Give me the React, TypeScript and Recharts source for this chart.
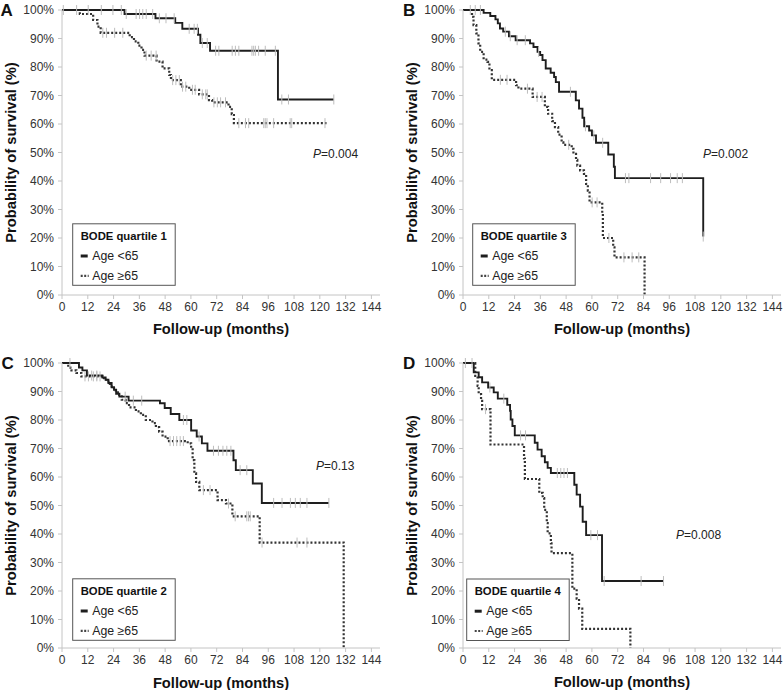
import React from 'react';
import { ComposedChart, Line, Scatter, XAxis, YAxis } from 'recharts';

type Pt = [number, number];

const FONT = '"Liberation Sans", Arial, Helvetica, sans-serif';

const xTicks = [0, 12, 24, 36, 48, 60, 72, 84, 96, 108, 120, 132, 144];
const yTicks = [0, 10, 20, 30, 40, 50, 60, 70, 80, 90, 100];

const groupLabels = ['Age <65', 'Age \u226565'];
const panelLetters = ['A', 'B', 'C', 'D'];
const quartileTitles = ['BODE quartile 1', 'BODE quartile 3', 'BODE quartile 2', 'BODE quartile 4'];
const pValues = ['0.004', '0.002', '0.13', '0.008'];

// Panel A – BODE quartile 1
const aYoung: Pt[] = [[0, 100], [29.1, 98.6], [43.5, 97.1], [52.7, 95.5], [56, 93.4], [63.3, 91.3], [64.4, 88.4], [68.9, 85.7], [100.5, 68.6], [126.5, 68.6]];
const aYoungCensor: Pt[] = [[0.6, 100], [6.8, 100], [12.2, 100], [18.3, 100], [23.7, 100], [27.6, 100], [29.9, 98.6], [34.5, 98.6], [36.1, 98.6], [37.6, 98.6], [39.2, 98.6], [42.2, 98.6], [45.3, 97.1], [48.4, 97.1], [52.2, 97.1], [59.2, 93.4], [61.5, 93.4], [63, 93.4], [65.3, 88.4], [67.6, 88.4], [71.5, 85.7], [73, 85.7], [79.2, 85.7], [80.7, 85.7], [82.3, 85.7], [88.4, 85.7], [89.2, 85.7], [90, 85.7], [91.5, 85.7], [94.6, 85.7], [99.3, 85.7], [102.3, 68.6], [105.4, 68.6], [126.5, 68.6]];
const aOld: Pt[] = [[0, 100], [8.3, 98.6], [14.5, 96.5], [16.5, 94.2], [18, 92], [31.5, 90.5], [33.5, 89], [35.5, 87.5], [37, 86], [38.4, 84], [44, 81.9], [46.8, 79.5], [49.9, 77.2], [50.7, 75.4], [55.3, 73.1], [59.2, 72], [63.8, 70.4], [68.4, 68.4], [69.9, 67.6], [77.5, 66], [79, 63.5], [80, 60.3], [123.1, 60.3]];
const aOldCensor: Pt[] = [[19, 92], [20.7, 92], [24.5, 92], [28.3, 92], [39.2, 84], [41.5, 84], [43.8, 84], [51.5, 75.4], [53, 75.4], [54.6, 75.4], [56.1, 73.1], [57.6, 73.1], [60.7, 72], [62, 72], [65.3, 70.4], [66.9, 70.4], [67.6, 70.4], [70.7, 67.6], [72.3, 67.6], [73.8, 67.6], [76.1, 67.6], [82.3, 60.3], [85.4, 60.3], [86.9, 60.3], [93.9, 60.3], [94.6, 60.3], [95.4, 60.3], [98.5, 60.3], [106.2, 60.3], [106.9, 60.3], [122.4, 60.3]];

// Panel B – BODE quartile 3
const bYoung: Pt[] = [[0, 100], [9.6, 99], [12.7, 97.9], [15.1, 96.7], [16.2, 95.3], [17.2, 93.5], [18.7, 92.4], [21.4, 90.8], [24.5, 89.4], [31.2, 88.3], [32.8, 87], [34.7, 85.3], [35.9, 84.2], [37, 82.4], [38.5, 79.5], [40.8, 78], [42.4, 76.5], [43.2, 74.7], [44.7, 71.3], [52.5, 68.3], [54, 65.4], [55.6, 62.2], [56.4, 59.2], [58.7, 57.7], [60, 56], [61.9, 53.4], [67.6, 49.3], [70.2, 45], [70.7, 41], [111.8, 41], [111.8, 20.5]];
const bYoungCensor: Pt[] = [[3.4, 100], [5.7, 100], [8.1, 100], [19.7, 92.4], [22, 90.8], [25.2, 89.4], [29, 89.4], [35.2, 85.3], [50, 71.3], [57, 59.2], [60.9, 56], [65, 53.4], [75.6, 41], [77.2, 41], [87.3, 41], [92, 41], [96.6, 41], [99.7, 41], [102.1, 41], [111.8, 20.5]];
const bOld: Pt[] = [[0, 100], [4.2, 97.6], [4.9, 94.7], [6.2, 91.8], [7.2, 88.3], [8, 85.3], [9.6, 82.6], [11.4, 81.8], [12.3, 78.9], [13.4, 75.5], [24.7, 73.6], [25.8, 72.4], [32.4, 69.5], [38.1, 66], [39.6, 63.6], [41.5, 61], [42.8, 58.9], [44.3, 56.3], [45.9, 53.6], [46.7, 52.7], [50.6, 51.3], [51.4, 49.5], [52.6, 47.4], [53.2, 45.4], [54.5, 43.7], [56.3, 42.5], [57.3, 39], [58.1, 36.6], [58.9, 32.5], [64.8, 28.4], [65.1, 20], [69.9, 16.7], [70.5, 13.2], [84.5, 13.2], [84.5, 0]];
const bOldCensor: Pt[] = [[17.4, 75.5], [20.5, 75.5], [30, 72.4], [34.5, 69.5], [36.8, 69.5], [49.2, 52.7], [60.1, 32.5], [62.4, 32.5], [67.9, 20], [74.9, 13.2], [78.7, 13.2], [81.8, 13.2]];

// Panel C – BODE quartile 2
const cYoung: Pt[] = [[0, 100], [7.9, 98.4], [9.5, 97.4], [11.6, 95.6], [18.8, 94.9], [20.3, 94.1], [21.6, 93], [23.1, 91.5], [24.2, 90.6], [25.2, 89.2], [26.7, 88.2], [31, 86.8], [45.6, 85.9], [47.8, 84.2], [50.6, 82.1], [54.6, 80], [60.1, 76.3], [62.7, 74.2], [65.1, 71.8], [67.7, 69.2], [79.8, 65.9], [80.9, 62.4], [88.8, 57.7], [93, 50.9], [124.2, 50.9]];
const cYoungCensor: Pt[] = [[3.7, 100], [13.8, 95.6], [16.2, 95.6], [29.4, 88.2], [33.2, 86.8], [37.1, 86.8], [56.5, 80], [58.1, 80], [63.8, 74.2], [70.5, 69.2], [72.8, 69.2], [74.9, 69.2], [76.7, 69.2], [78.6, 69.2], [82.9, 62.4], [86, 62.4], [98.5, 50.9], [102.4, 50.9], [106.3, 50.9], [108.6, 50.9], [110.9, 50.9], [114, 50.9], [124.2, 50.9]];
const cOld: Pt[] = [[0, 100], [2.9, 98.4], [4.4, 97.4], [6.7, 96.5], [9, 95.3], [18.8, 94.7], [20.6, 93.5], [22.3, 91.8], [24.2, 90.4], [26, 88.8], [27.8, 87.1], [29.6, 85.9], [31.2, 84.4], [34.4, 83], [36.7, 81.8], [39, 80], [42.1, 78.9], [43.7, 77.5], [45.2, 75.9], [46.8, 74.2], [49.2, 72.6], [58.5, 71.8], [60.1, 70.1], [60.8, 65.9], [61.6, 61.3], [62.4, 58.3], [63.9, 55.4], [72.4, 51.9], [76.3, 50.7], [79.3, 46.2], [92, 37], [131.1, 37], [131.1, 0]];
const cOldCensor: Pt[] = [[10.7, 95.3], [12.3, 95.3], [14.6, 95.3], [16.2, 95.3], [17.7, 95.3], [50.3, 72.6], [51.9, 72.6], [53.4, 72.6], [55, 72.6], [56.5, 72.6], [65.8, 55.4], [68.9, 55.4], [77.5, 50.7], [80.6, 46.2], [86, 46.2], [86.8, 46.2], [87.6, 46.2], [93.1, 37], [109.4, 37], [114, 37]];

// Panel D – BODE quartile 4
const dYoung: Pt[] = [[0, 100], [5, 96.7], [7.3, 95], [8.9, 93.2], [11.7, 91.4], [14.3, 89.7], [16.2, 87.5], [20.6, 85.3], [21.9, 83.2], [22.2, 80.2], [23, 77.9], [24.1, 74.6], [33.4, 72], [34.7, 69.6], [36.6, 67.3], [38.1, 65.2], [39.4, 63.2], [40.9, 61.4], [51.8, 57.3], [52.9, 53.8], [54.5, 49.6], [55.7, 44.3], [57.3, 39.6], [64.7, 23.5], [93.3, 23.5]];
const dYoungCensor: Pt[] = [[1.1, 100], [4.2, 100], [12.5, 91.4], [19, 87.5], [26.8, 74.6], [29.1, 74.6], [43.9, 61.4], [45.5, 61.4], [47, 61.4], [48.6, 61.4], [59.5, 39.6], [62.6, 39.6], [65.7, 23.5], [82.9, 23.5], [93.3, 23.5]];
const dOld: Pt[] = [[0, 100], [5.7, 95.5], [6.8, 92], [7.3, 89.1], [8.4, 86.7], [8.9, 83.8], [12.8, 71.4], [28.4, 66.5], [28.8, 59.3], [35.5, 54.4], [37.1, 52.6], [37.8, 48.5], [39, 43.8], [39.4, 40.2], [40.9, 36.7], [41.2, 33.3], [50.9, 20.8], [52.9, 17.3], [54, 13.8], [55.5, 6.7], [77.9, 6.7], [77.9, 0]];
const dOldCensor: Pt[] = [[10.5, 83.8]];

const toRows = (pts: Pt[]) => pts.map(([t, s]) => ({ t, s }));

function CensorMark(props: any) {
  const { cx, cy } = props;
  if (cx == null || cy == null || isNaN(cx) || isNaN(cy)) return <g />;
  return <line x1={cx} x2={cx} y1={cy - 5} y2={cy + 5} stroke="#bdbdbd" strokeWidth={1} />;
}

const tickStyle = { fill: '#333', fontSize: 12, fontFamily: FONT };

function Panel(props: { young: Pt[]; old: Pt[]; youngCensor: Pt[]; oldCensor: Pt[] }) {
  const { young, old, youngCensor, oldCensor } = props;
  return (
    <ComposedChart width={382} height={345} margin={{ top: 10, right: 2, bottom: 0, left: 0 }}>
      <XAxis
        type="number"
        dataKey="t"
        domain={[0, 148]}
        ticks={xTicks}
        interval={0}
        allowDataOverflow
        height={50}
        tickSize={4}
        tickMargin={3}
        stroke="#c4c4c4"
        tick={tickStyle}
      />
      <YAxis
        type="number"
        dataKey="s"
        domain={[0, 100]}
        ticks={yTicks}
        interval={0}
        width={62}
        tickFormatter={(v: number) => `${v}%`}
        tickSize={4}
        tickMargin={4}
        stroke="#c4c4c4"
        tick={tickStyle}
      />
      <Scatter data={toRows(youngCensor)} dataKey="s" shape={CensorMark} isAnimationActive={false} />
      <Scatter data={toRows(oldCensor)} dataKey="s" shape={CensorMark} isAnimationActive={false} />
      <Line data={toRows(old)} dataKey="s" type="stepAfter" stroke="#333" strokeWidth={2.2} strokeDasharray="2 2" dot={false} activeDot={false} isAnimationActive={false} />
      <Line data={toRows(young)} dataKey="s" type="stepAfter" stroke="#1e1e1e" strokeWidth={1.9} dot={false} activeDot={false} isAnimationActive={false} />
    </ComposedChart>
  );
}

const panels = [
  { left: 0, top: 0, young: aYoung, old: aOld, youngCensor: aYoungCensor, oldCensor: aOldCensor },
  { left: 401, top: 0, young: bYoung, old: bOld, youngCensor: bYoungCensor, oldCensor: bOldCensor },
  { left: 0, top: 353, young: cYoung, old: cOld, youngCensor: cYoungCensor, oldCensor: cOldCensor },
  { left: 401, top: 353, young: dYoung, old: dOld, youngCensor: dYoungCensor, oldCensor: dOldCensor },
];

const letterPos = [[0.5, 15.5], [403, 15.5], [1.5, 368.5], [403, 368.5]];
const yTitlePos = [[11, 152.5], [411.5, 152.5], [11, 505.5], [411.5, 505.5]];
const xTitlePos = [[221, 329], [622, 329], [221, 682.5], [622, 682]];
const pPos = [[313, 154], [703, 154], [316, 466], [676, 535]];
const legendPos = [[72.7, 223.8], [472.7, 223.8], [72.7, 578.8], [466.7, 579]];

export default function App() {
  return (
    <div style={{ position: 'absolute', left: 0, top: 0, width: 783, height: 690, background: '#fff', overflow: 'hidden', fontFamily: FONT }}>
      {panels.map((p, i) => (
        <div key={i} style={{ position: 'absolute', left: p.left, top: p.top }}>
          <Panel young={p.young} old={p.old} youngCensor={p.youngCensor} oldCensor={p.oldCensor} />
        </div>
      ))}
      <svg width={783} height={690} style={{ position: 'absolute', left: 0, top: 0, pointerEvents: 'none' }} fontFamily={FONT}>
        {panelLetters.map((l, i) => (
          <text key={'l' + i} x={letterPos[i][0]} y={letterPos[i][1]} fontSize={17} fontWeight="bold" fill="#111">{l}</text>
        ))}
        {yTitlePos.map((p, i) => (
          <text key={'y' + i} x={p[0]} y={p[1]} fontSize={14.7} fontWeight="bold" fill="#111" textAnchor="middle" dominantBaseline="central" transform={`rotate(-90 ${p[0]} ${p[1]})`}>Probability of survival (%)</text>
        ))}
        {xTitlePos.map((p, i) => (
          <text key={'x' + i} x={p[0]} y={p[1]} fontSize={14.7} fontWeight="bold" fill="#111" textAnchor="middle" dominantBaseline="central">Follow-up (months)</text>
        ))}
        {pPos.map((p, i) => (
          <text key={'p' + i} x={p[0]} y={p[1]} fontSize={12} fill="#222" dominantBaseline="central">
            <tspan fontStyle="italic">P</tspan>={pValues[i]}
          </text>
        ))}
        {legendPos.map((p, i) => (
          <g key={'g' + i}>
            <rect x={p[0]} y={p[1]} width={102.5} height={61.5} fill="#fff" stroke="#555" strokeWidth={1} />
            <text x={p[0] + 8} y={p[1] + 12.3} fontSize={11.3} fontWeight="bold" fill="#111" dominantBaseline="central">{quartileTitles[i]}</text>
            <line x1={p[0] + 8} x2={p[0] + 15} y1={p[1] + 32.2} y2={p[1] + 32.2} stroke="#1e1e1e" strokeWidth={3} />
            <text x={p[0] + 19.6} y={p[1] + 32.2} fontSize={12.3} fill="#222" dominantBaseline="central">{groupLabels[0]}</text>
            <line x1={p[0] + 8} x2={p[0] + 16} y1={p[1] + 52} y2={p[1] + 52} stroke="#444" strokeWidth={2.2} strokeDasharray="2 1.5" />
            <text x={p[0] + 19.6} y={p[1] + 52} fontSize={12.3} fill="#222" dominantBaseline="central">{groupLabels[1]}</text>
          </g>
        ))}
      </svg>
    </div>
  );
}
